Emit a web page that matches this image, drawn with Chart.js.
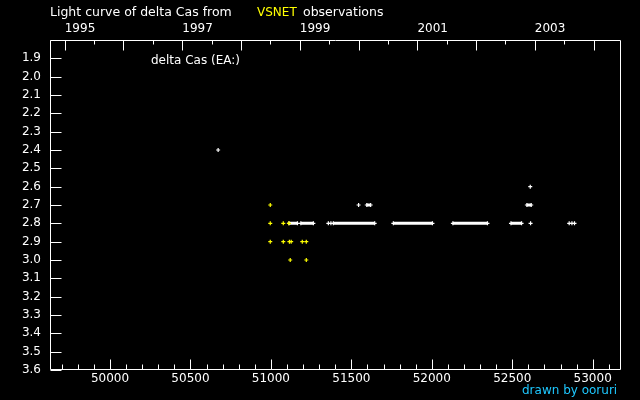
<!DOCTYPE html>
<html>
<head>
<meta charset="utf-8">
<script src="https://cdn.jsdelivr.net/npm/chart.js@4/dist/chart.umd.min.js"></script>
<style>
	body { margin: 0; background: #000; }
	#wrap { position: relative; width: 640px; height: 400px; background: #000; overflow: hidden; }
	.txt { position: absolute; font-family: 'DejaVu Sans', sans-serif; font-size: 12px; white-space: nowrap; line-height: 14px; color: #fff; }
</style>
</head>
<body>
<div id="wrap">
	<canvas id="lc" width="640" height="400"></canvas>
	<div class="txt" style="left:50px; top:5px; font-size:12.5px">Light curve of delta Cas from</div>
	<div class="txt" style="left:257px; top:5px; color:#ffff00">VSNET</div>
	<div class="txt" style="left:303px; top:5px; font-size:12.5px">observations</div>
	<div class="txt" style="left:151px; top:53px">delta Cas (EA:)</div>
	<div class="txt" style="left:522px; top:383px; color:#1ec8ff">drawn by ooruri</div>
</div>
<script>
// single white observations (JD - 2400000, magnitude)
const whiteJD = [50672, 51357, 51373, 51545, 52612, 52614, 52854, 52871, 52887]
const whiteMag = [2.4, 2.8, 2.8, 2.7, 2.6, 2.8, 2.8, 2.8, 2.8]

// dense runs of white observations, drawn as solid bars
const runStart = [51112, 51186, 51388, 51761, 52131, 52492, 51596, 52591]
const runEnd = [51165, 51264, 51645, 52004, 52346, 52558, 51620, 52618]
const runMag = [2.8, 2.8, 2.8, 2.8, 2.8, 2.8, 2.7, 2.7]

// yellow observations
const yellowJD = [50996, 50996, 50996, 51077, 51077, 51112, 51115, 51126, 51120, 51195, 51220, 51220]
const yellowMag = [2.7, 2.8, 2.9, 2.8, 2.9, 2.8, 2.9, 2.9, 3.0, 2.9, 2.9, 3.0]

// axes
const jdMin = 49627
const jdMax = 53176
const jdTicks = [49700, 49800, 49900, 50000, 50100, 50200, 50300, 50400, 50500, 50600, 50700, 50800, 50900,
	51000, 51100, 51200, 51300, 51400, 51500, 51600, 51700, 51800, 51900, 52000, 52100, 52200, 52300,
	52400, 52500, 52600, 52700, 52800, 52900, 53000, 53100]
const years = [1995, 1996, 1997, 1998, 1999, 2000, 2001, 2002, 2003, 2004]
const yearJD = [49718.5, 50083.5, 50449.5, 50814.5, 51179.5, 51544.5, 51910.5, 52275.5, 52640.5, 53005.5]
const magTicks = [1.8, 1.9, 2.0, 2.1, 2.2, 2.3, 2.4, 2.5, 2.6, 2.7, 2.8, 2.9, 3.0, 3.1, 3.2, 3.3, 3.4, 3.5, 3.6]

const font = { family: 'DejaVu Sans', size: 12 }

const runPoints = []
runStart.forEach((s, i) => {
	runPoints.push({ x: s, y: runMag[i] })
	runPoints.push({ x: runEnd[i], y: runMag[i] })
	runPoints.push({ x: runEnd[i], y: null })
})

const yearTicks = []
yearJD.forEach((jd, i) => {
	yearTicks.push({ value: jd, major: true, label: years[i] % 2 === 1 ? String(years[i]) : '' })
	if (i < yearJD.length - 1) yearTicks.push({ value: (jd + yearJD[i + 1]) / 2, major: false, label: '' })
})

const innerTicks = {
	id: 'innerTicks',
	afterDraw(chart) {
		const { ctx, chartArea: a, scales } = chart
		const L = Math.round(a.left) + 0.5, R = Math.round(a.right) - 0.5
		const T = Math.round(a.top) + 0.5, B = Math.round(a.bottom) - 0.5
		ctx.save()
		ctx.strokeStyle = '#fff'
		ctx.lineWidth = 1
		ctx.beginPath()
		ctx.rect(L, T, R - L, B - T)
		scales.y.ticks.forEach(t => {
			const py = Math.round(scales.y.getPixelForValue(t.value)) + 0.5
			ctx.moveTo(L, py); ctx.lineTo(L + 11, py)
		})
		scales.x.ticks.forEach(t => {
			const px = Math.round(scales.x.getPixelForValue(t.value)) + 0.5
			ctx.moveTo(px, B); ctx.lineTo(px, B - (t.value % 500 === 0 ? 10 : 5))
		})
		scales.xTop.ticks.forEach(t => {
			const px = Math.round(scales.xTop.getPixelForValue(t.value)) + 0.5
			ctx.moveTo(px, T); ctx.lineTo(px, T + (t.major ? 10 : 4))
		})
		ctx.stroke()
		ctx.restore()
	}
}

const crossPts = color => ({
	pointStyle: 'cross',
	pointRadius: 2,
	pointBorderWidth: 1.2,
	pointBorderColor: color,
	pointBackgroundColor: color,
	pointHoverRadius: 2
})

new Chart(document.getElementById('lc'), {
	type: 'scatter',
	data: {
		datasets: [
			{
				label: 'yellow',
				data: yellowJD.map((x, i) => ({ x: x, y: yellowMag[i] })),
				...crossPts('#ffff00')
			},
			{
				label: 'runs',
				data: runPoints,
				showLine: true,
				spanGaps: false,
				borderColor: '#fff',
				borderWidth: 3,
				...crossPts('#fff')
			},
			{
				label: 'white',
				data: whiteJD.map((x, i) => ({ x: x, y: whiteMag[i] })),
				...crossPts('#fff')
			}
		]
	},
	options: {
		responsive: false,
		animation: false,
		layout: { padding: { left: 0, right: 19, top: 0, bottom: 0 } },
		plugins: { legend: { display: false }, tooltip: { enabled: false } },
		scales: {
			x: {
				type: 'linear', position: 'bottom', min: jdMin, max: jdMax,
				afterBuildTicks: s => { s.ticks = jdTicks.map(v => ({ value: v })) },
				afterFit: s => { s.height = 30 },
				grid: { display: false, drawTicks: false },
				border: { display: false },
				ticks: {
					color: '#fff', font: font, padding: 2, maxRotation: 0, autoSkip: false,
					callback: v => v % 500 === 0 ? String(v) : ''
				}
			},
			xTop: {
				type: 'linear', position: 'top', min: jdMin, max: jdMax,
				afterBuildTicks: s => { s.ticks = yearTicks.map(t => ({ ...t })) },
				afterFit: s => { s.height = 40 },
				grid: { display: false, drawTicks: false },
				border: { display: false },
				ticks: {
					color: '#fff', font: font, padding: 4, maxRotation: 0, autoSkip: false, align: 'start',
					callback: (v, i, ticks) => ticks[i].label
				}
			},
			y: {
				type: 'linear', reverse: true, min: 1.8, max: 3.6,
				afterBuildTicks: s => { s.ticks = magTicks.map(v => ({ value: v })) },
				afterFit: s => { s.width = 50 },
				grid: { display: false, drawTicks: false },
				border: { display: false },
				ticks: {
					color: '#fff', font: font, padding: 9, autoSkip: false,
					callback: v => v === 1.8 ? '' : v.toFixed(1)
				}
			}
		}
	},
	plugins: [innerTicks]
})
</script>
</body>
</html>
